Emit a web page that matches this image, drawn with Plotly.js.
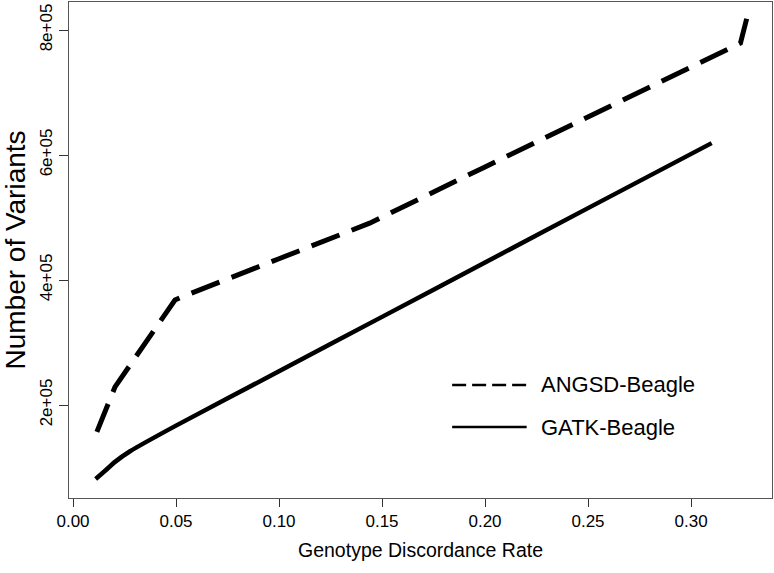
<!DOCTYPE html>
<html>
<head>
<meta charset="utf-8">
<script src="https://cdn.plot.ly/plotly-3.0.1.min.js"></script>
<style>
  html, body { margin: 0; padding: 0; background: #ffffff; }
  #chart { width: 774px; height: 573px; }
</style>
</head>
<body>
<div id="chart"></div>
<script>
// Genotype discordance rate (x) vs number of variants (y)
const angsdRate = [0.0116, 0.0204, 0.0495, 0.0552, 0.10, 0.144, 0.20, 0.25, 0.30, 0.324, 0.327];
const angsdVariants = [157000, 229000, 368000, 376000, 434000, 491000, 581000, 661000, 741000, 779000, 818000];

const gatkRate = [0.011, 0.016, 0.0204, 0.0277, 0.05, 0.10, 0.15, 0.20, 0.25, 0.31];
const gatkVariants = [81600, 96000, 109000, 126000, 167000, 254000, 341000, 428000, 515000, 619000];

const seriesNames = ["ANGSD-Beagle", "GATK-Beagle"];

const xTickVals = [0.00, 0.05, 0.10, 0.15, 0.20, 0.25, 0.30];
const xTickText = ["0.00", "0.05", "0.10", "0.15", "0.20", "0.25", "0.30"];
const yTickVals = [200000, 400000, 600000, 800000];
const yTickText = ["2e+05", "4e+05", "6e+05", "8e+05"];

const traces = [
  {
    x: angsdRate, y: angsdVariants, type: "scatter", mode: "lines",
    name: seriesNames[0], showlegend: false,
    line: { color: "#000000", width: 5, dash: "30px,13px" }
  },
  {
    x: gatkRate, y: gatkVariants, type: "scatter", mode: "lines",
    name: seriesNames[1], showlegend: false,
    line: { color: "#000000", width: 4.5, shape: "spline", smoothing: 0.3 }
  }
];

const legendFont = { family: "Liberation Sans, Arial, sans-serif", size: 22, color: "#000000" };

const layout = {
  width: 774, height: 573,
  margin: { l: 69, r: 2, t: 2, b: 75, pad: 0 },
  paper_bgcolor: "#ffffff", plot_bgcolor: "#ffffff",
  showlegend: false,
  xaxis: {
    range: [-0.00194, 0.3393],
    tickmode: "array", tickvals: xTickVals, ticktext: xTickText,
    ticks: "outside", ticklen: 8, tickwidth: 1, tickcolor: "#333333",
    showline: true, linecolor: "#555555", linewidth: 1, mirror: true,
    showgrid: false, zeroline: false,
    tickfont: { family: "Liberation Sans, Arial, sans-serif", size: 17, color: "#000000" },
    title: { text: "Genotype Discordance Rate", standoff: 12,
      font: { family: "Liberation Sans, Arial, sans-serif", size: 19.5, color: "#000000" } },
    automargin: false
  },
  yaxis: {
    range: [51200, 844800],
    tickmode: "array", tickvals: yTickVals, ticktext: yTickText,
    ticks: "outside", ticklen: 9, tickwidth: 1, tickcolor: "#333333",
    tickangle: -90,
    showline: true, linecolor: "#555555", linewidth: 1, mirror: true,
    showgrid: false, zeroline: false,
    tickfont: { family: "Liberation Sans, Arial, sans-serif", size: 17, color: "#000000" },
    title: { text: "Number of Variants", standoff: 8,
      font: { family: "Liberation Sans, Arial, sans-serif", size: 28, color: "#000000" } },
    automargin: false
  },
  shapes: [
    { type: "line", xref: "paper", yref: "paper", x0: 0.545, x1: 0.651, y0: 0.228, y1: 0.228,
      line: { color: "#000000", width: 2.5, dash: "14px,6px" } },
    { type: "line", xref: "paper", yref: "paper", x0: 0.545, x1: 0.651, y0: 0.143, y1: 0.143,
      line: { color: "#000000", width: 2.5 } }
  ],
  annotations: [
    { xref: "paper", yref: "paper", x: 0.669, y: 0.228, xanchor: "left", yanchor: "middle",
      text: seriesNames[0], showarrow: false, font: legendFont },
    { xref: "paper", yref: "paper", x: 0.669, y: 0.143, xanchor: "left", yanchor: "middle",
      text: seriesNames[1], showarrow: false, font: legendFont }
  ]
};

Plotly.newPlot("chart", traces, layout, { staticPlot: true, displayModeBar: false });
</script>
</body>
</html>
